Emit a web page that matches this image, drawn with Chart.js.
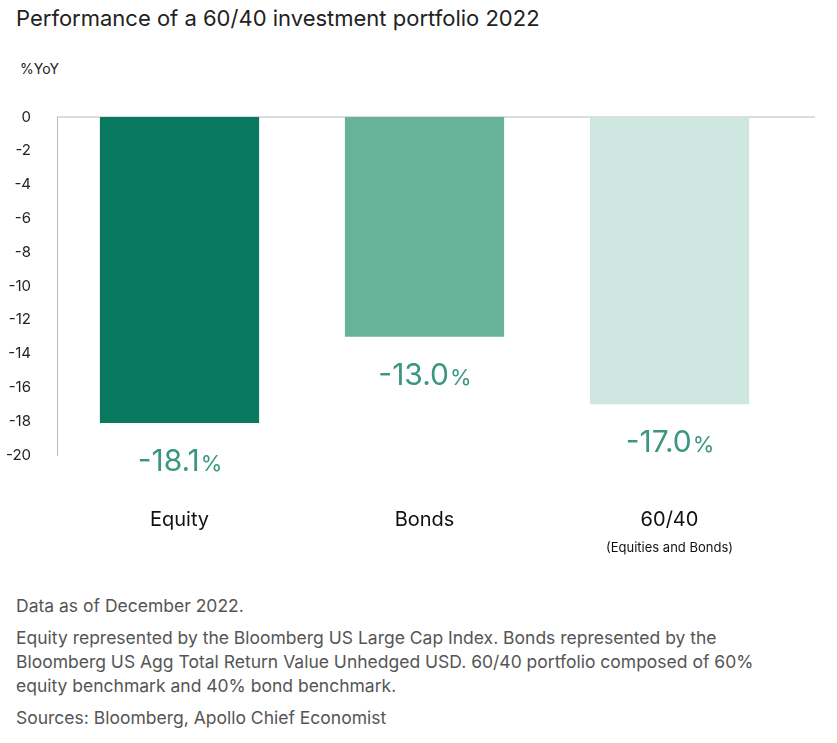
<!DOCTYPE html>
<html><head><meta charset="utf-8">
<script src="https://cdn.jsdelivr.net/npm/chart.js@4"></script>
<style>
body{margin:0;width:837px;height:743px;background:#fff;font-family:Inter,"Open Sans",sans-serif;color:#222;position:relative;overflow:hidden}
#title{position:absolute;left:16px;top:5px;font-size:22px;color:#222}
#unit{position:absolute;left:20px;top:60px;font-size:14px;color:#222}
#wrap{position:absolute;left:0;top:90px;width:837px;height:480px}
#notes{position:absolute;left:16px;top:594px;font-size:17.5px;color:#555;line-height:24px;width:770px}
#notes p{margin:0 0 8px 0}
</style></head><body>
<div id="title">Performance of a 60/40 investment portfolio 2022</div>
<div id="unit">%YoY</div>
<div id="wrap"><canvas id="c"></canvas></div>
<div id="notes">
<p>Data as of December 2022.</p>
<p>Equity represented by the Bloomberg US Large Cap Index. Bonds represented by the Bloomberg US Agg Total Return Value Unhedged USD. 60/40 portfolio composed of 60% equity benchmark and 40% bond benchmark.</p>
<p>Sources: Bloomberg, Apollo Chief Economist</p>
</div>
<script>
var categories = ['Equity', 'Bonds', '60/40'];
var subLabels = ['', '', '(Equities and Bonds)'];
var values = [-18.1, -13.0, -17.0];
var colors = ['#08785f', '#66b39a', '#cde6e0'];

var labelPlugin = {
    id: 'labels',
    beforeDatasetsDraw: function (chart) {
        var ctx = chart.ctx, y = chart.scales.y.getPixelForValue(0);
        ctx.save();
        ctx.strokeStyle = '#bbb';
        ctx.lineWidth = 1;
        ctx.beginPath();
        ctx.moveTo(chart.chartArea.left, y);
        ctx.lineTo(chart.width - 22, y);
        ctx.stroke();
        ctx.restore();
    },
    afterDatasetsDraw: function (chart) {
        var ctx = chart.ctx;
        var meta = chart.getDatasetMeta(0);
        ctx.save();
        meta.data.forEach(function (bar, i) {
            var num = values[i].toFixed(1);
            ctx.font = '30px Inter, sans-serif';
            var w1 = ctx.measureText(num).width;
            ctx.font = '22px Inter, sans-serif';
            var w2 = ctx.measureText('%').width;
            var x0 = bar.x - (w1 + w2) / 2;
            ctx.fillStyle = '#3a977f';
            ctx.textBaseline = 'alphabetic';
            ctx.textAlign = 'left';
            ctx.font = '30px Inter, sans-serif';
            ctx.fillText(num, x0, bar.y + 48);
            ctx.font = '22px Inter, sans-serif';
            ctx.fillText('%', x0 + w1 + 1, bar.y + 48);

            ctx.textAlign = 'center';
            ctx.fillStyle = '#111';
            ctx.font = '20px Inter, sans-serif';
            ctx.fillText(categories[i], bar.x, chart.chartArea.bottom + 71);
            if (subLabels[i]) {
                ctx.font = '13px Inter, sans-serif';
                ctx.fillText(subLabels[i], bar.x, chart.chartArea.bottom + 97);
            }
        });
        ctx.restore();
    }
};

new Chart(document.getElementById('c'), {
    type: 'bar',
    data: {
        labels: categories,
        datasets: [{ data: values, backgroundColor: colors, categoryPercentage: 1, barPercentage: 0.65 }]
    },
    options: {
        responsive: true,
        maintainAspectRatio: false,
        animation: false,
        layout: { padding: { top: 15, right: 45, bottom: 115, left: 0 } },
        plugins: { legend: { display: false }, tooltip: { enabled: false } },
        scales: {
            x: { display: false },
            y: {
                min: -20, max: 0,
                afterFit: function (s) { s.width = 57; },
                border: { display: true, color: '#bbb' },
                grid: { display: false },
                ticks: { stepSize: 2, padding: 18, color: '#222', font: { size: 15, family: 'Inter' } }
            }
        }
    },
    plugins: [labelPlugin]
});
</script>
</body></html>
